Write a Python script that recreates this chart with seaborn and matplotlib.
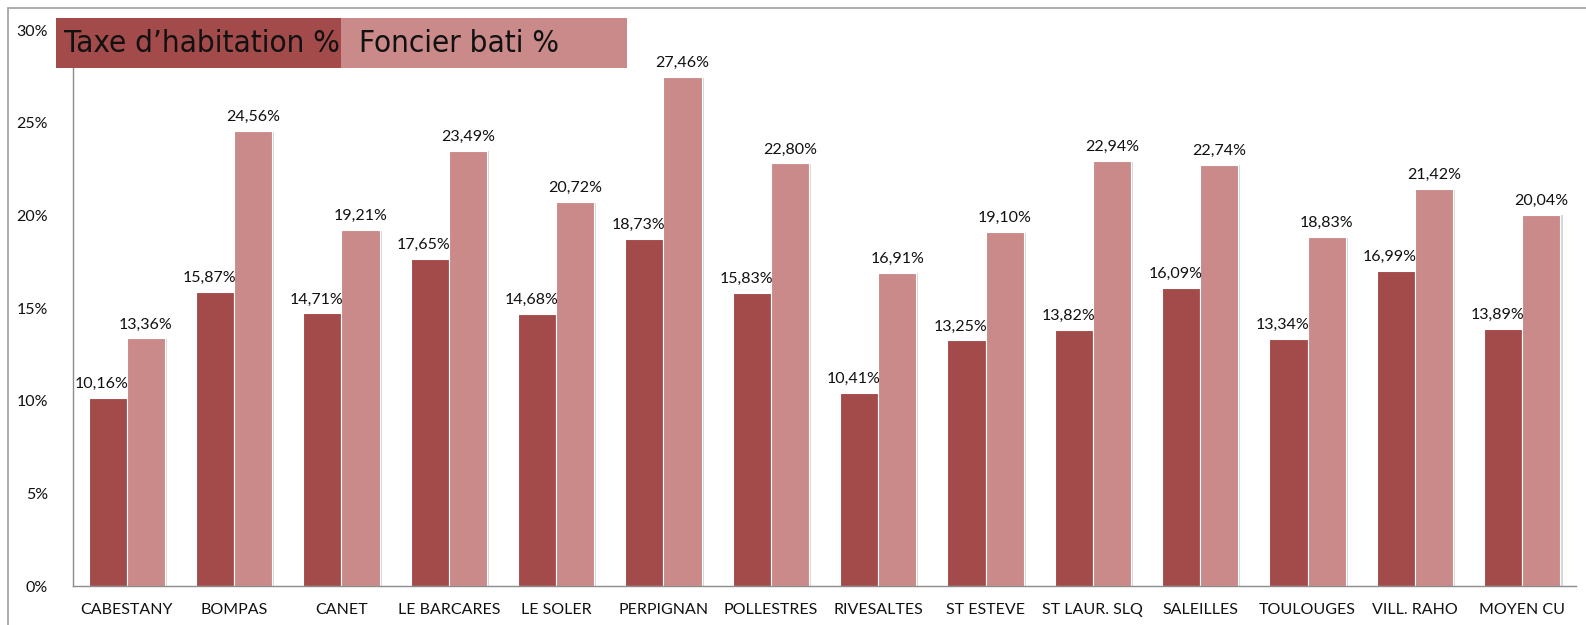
"""Taux d'imposition par commune : taxe d'habitation vs foncier bati."""

import matplotlib.patheffects as pe
import matplotlib.pyplot as plt
import pandas as pd
import seaborn as sns
from matplotlib.patches import Rectangle
from matplotlib.ticker import FuncFormatter

communes = [
    "CABESTANY", "BOMPAS", "CANET", "LE BARCARES", "LE SOLER", "PERPIGNAN",
    "POLLESTRES", "RIVESALTES", "ST ESTEVE", "ST LAUR. SLQ", "SALEILLES",
    "TOULOUGES", "VILL. RAHO", "MOYEN CU",
]
taxe_habitation = [10.16, 15.87, 14.71, 17.65, 14.68, 18.73, 15.83,
                   10.41, 13.25, 13.82, 16.09, 13.34, 16.99, 13.89]
foncier_bati = [13.36, 24.56, 19.21, 23.49, 20.72, 27.46, 22.80,
                16.91, 19.10, 22.94, 22.74, 18.83, 21.42, 20.04]
series = ["Taxe d\u2019habitation %", "Foncier bati %"]
colors = ["#A34A4A", "#CA8A89"]

df = pd.DataFrame({
    "commune": communes * 2,
    "serie": [series[0]] * len(communes) + [series[1]] * len(communes),
    "valeur": taxe_habitation + foncier_bati,
})

sns.set_style("white")
plt.rcParams["font.family"] = ["Lato", "DejaVu Sans"]

W, H = 1586, 625
fig = plt.figure(figsize=(W / 100, H / 100), dpi=100)
ax = fig.add_axes([73 / W, 1 - 586 / H, (1576 - 73) / W, (586 - 30) / H])

sns.barplot(data=df, x="commune", y="valeur", hue="serie", order=communes,
            hue_order=series, palette=colors, width=0.71, saturation=1,
            edgecolor="white", linewidth=0.8, legend=False, ax=ax)

shadow = [pe.SimplePatchShadow(offset=(1.5, -0.5), shadow_rgbFace="#b0b0b0",
                               alpha=0.5), pe.Normal()]
for patch in ax.patches:
    patch.set_path_effects(shadow)

ax.set_ylim(0, 30)
ax.set_xlim(-0.5, len(communes) - 0.5)
ax.set_yticks(range(0, 31, 5))
ax.yaxis.set_major_formatter(FuncFormatter(lambda v, _: f"{v:.0f}%"))
ax.set_xlabel("")
ax.set_ylabel("")
ax.tick_params(axis="both", length=0, labelsize=11.5, colors="#111111")
ax.tick_params(axis="y", pad=18)
ax.tick_params(axis="x", pad=12)
for side in ["top", "right"]:
    ax.spines[side].set_visible(False)
for side in ["left", "bottom"]:
    ax.spines[side].set_color("#8c8c8c")
    ax.spines[side].set_linewidth(1.0)

# value labels, comma decimal like the original
for i, cont in enumerate(ax.containers):
    for patch in cont:
        h = patch.get_height()
        txt = f"{h:.2f}%".replace(".", ",")
        if i == 0:
            x, ha = patch.get_x() + patch.get_width() + 0.02, "right"
        else:
            x, ha = patch.get_x() + patch.get_width() / 2, "center"
        ax.annotate(txt, (x, h), xytext=(0, 5), textcoords="offset points",
                    ha=ha, va="bottom", fontsize=11.5, color="#111111")

# legend drawn as two coloured boxes on top of the plot
x0, xm, x1 = 56 / W, 341 / W, 627 / W
y0, y1 = 1 - 68 / H, 1 - 18 / H
for (a, b), c, lab, pad in zip([(x0, xm), (xm, x1)], colors, series, [8, 18]):
    fig.patches.append(Rectangle((a, y0), b - a, y1 - y0, transform=fig.transFigure,
                                 facecolor=c, edgecolor="none", zorder=5))
    fig.text(a + pad / W, (y0 + y1) / 2 - 1 / H, lab, ha="left", va="center",
             fontsize=22.5, family="DejaVu Sans", fontstretch="condensed",
             color="#111111", zorder=6)

# thin outer frame
fig.patches.append(Rectangle((8 / W, -0.1), 1.2, 1 - 8 / H + 0.1,
                             transform=fig.transFigure, facecolor="none",
                             edgecolor="#a0a0a0", linewidth=1.2, zorder=0))

fig.savefig("out.png", dpi=100)
plt.close(fig)
